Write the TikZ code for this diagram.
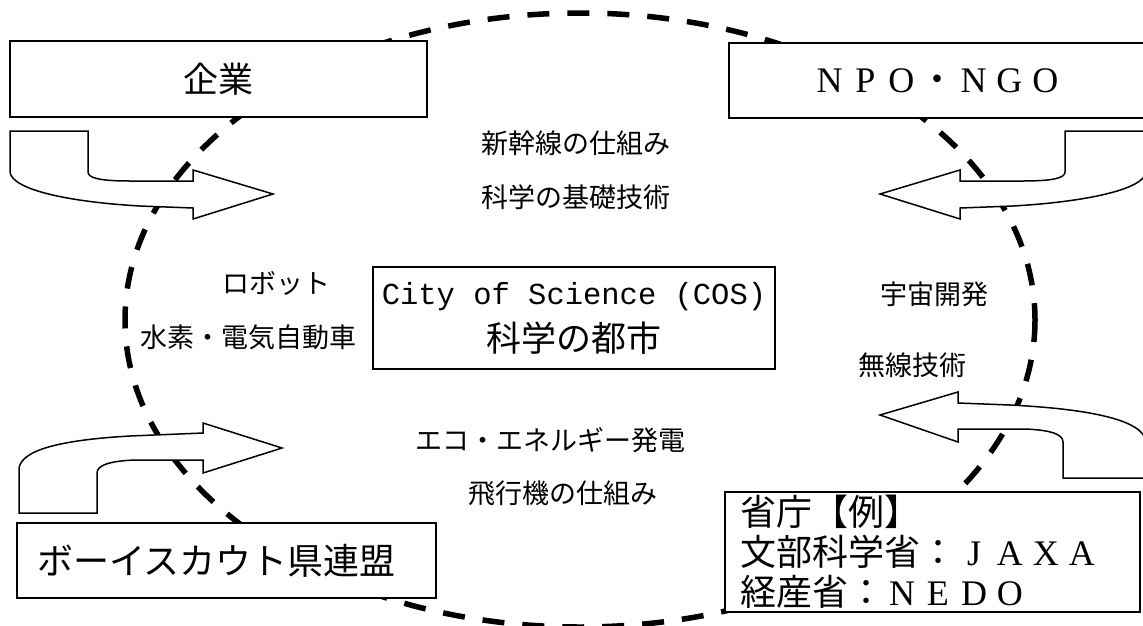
\documentclass[tikz,border=0pt]{standalone}
\usepackage{fontspec}
\newfontfamily\jp{Noto Sans CJK JP}
\newfontfamily\lserif{Liberation Serif}
\newfontfamily\lmono{Liberation Mono}
\newcommand\fwl[1]{\makebox[1em]{\lserif #1}}
\begin{document}
\begin{tikzpicture}[x=1pt,y=-1pt,
  box/.style={draw, line width=1.6pt, fill=white, rectangle, inner sep=0pt},
  bigtxt/.style={font=\jp\fontsize{36}{40}\selectfont},
  smalltxt/.style={font=\jp\fontsize{27}{32}\selectfont},
  bentarrow/.style={draw, line width=1.5pt, fill=white, line join=miter},
  ring/.style={line width=5.5pt, dash pattern=on 22pt off 18pt}]
\useasboundingbox (0,0) rectangle (1143,625);
\clip (0,0) rectangle (1143,625);
\fill[white] (0,0) rectangle (1143,625);

% dashed ring
\draw[ring] (580,320) ellipse [x radius=455, y radius=307];

% bent arrows
\path[bentarrow] (10,131) -- (88,131) -- (88,172)
  .. controls (88,178) and (100,181) .. (130,181) -- (193,181) -- (193,170)
  -- (273,194) -- (193,219) -- (193,208) -- (140,206)
  .. controls (70,202) and (12,190) .. (10,172) -- cycle;
\path[bentarrow] (1146,131) -- (1065,131) -- (1065,172)
  .. controls (1065,178) and (1053,181) .. (1023,181) -- (960,181) -- (960,170)
  -- (880,194) -- (960,219) -- (960,208) -- (1013,206)
  .. controls (1083,202) and (1144,190) .. (1146,172) -- cycle;
\path[bentarrow] (19,513) -- (97,513) -- (97,473)
  .. controls (97,465) and (110,461) .. (135,460) -- (203,460) -- (203,473)
  -- (282,448) -- (203,423) -- (203,433) -- (130,436)
  .. controls (60,440) and (22,450) .. (19,468) -- cycle;
\path[bentarrow] (1146,478) -- (1063,478) -- (1063,442)
  .. controls (1063,434) and (1050,430) .. (1025,429) -- (958,429) -- (958,442)
  -- (880,415) -- (958,392) -- (958,403) -- (1010,405)
  .. controls (1090,409) and (1144,420) .. (1146,442) -- cycle;

% boxes
\node[box, bigtxt, font=\jp\fontsize{35}{40}\selectfont, minimum width=417pt, minimum height=76pt] (kigyo) at (218.5,79) {企業};
\node[box, bigtxt, minimum width=417pt, minimum height=75pt] (npo) at (937.5,80.5)
  {\fwl{N}\fwl{P}\fwl{O}・\fwl{N}\fwl{G}\fwl{O}};
\node[box, minimum width=402pt, minimum height=102pt, align=center,
  font=\fontsize{30}{47}\selectfont] (cos) at (574,318)
  {{\lmono\fontsize{30.5}{47}\selectfont City of Science (COS)}\\{\jp\fontsize{35}{47}\selectfont 科学の都市}};
\node[box, bigtxt, text width=379pt, inner xsep=20pt, minimum height=75pt, align=left] (scout) at (226.5,560.5)
  {ボーイスカウト県連盟};
\node[box, bigtxt, text width=385pt, inner xsep=15pt, minimum height=120pt, align=left] (shocho) at (932.5,552)
  {省庁【例】\\文部科学省：\fwl{J}\fwl{A}\fwl{X}\fwl{A}\\経産省：\fwl{N}\fwl{E}\fwl{D}\fwl{O}};

% labels
\node[smalltxt] (t1) at (576,143) {新幹線の仕組み};
\node[smalltxt] (t2) at (576,197) {科学の基礎技術};
\node[smalltxt] (t3) at (276,283) {ロボット};
\node[smalltxt] (t4) at (248,337) {水素・電気自動車};
\node[smalltxt] (t5) at (934,294) {宇宙開発};
\node[smalltxt] (t6) at (912,365) {無線技術};
\node[smalltxt] (t7) at (550,440) {エコ・エネルギー発電};
\node[smalltxt] (t8) at (563,493) {飛行機の仕組み};
\end{tikzpicture}
\end{document}
